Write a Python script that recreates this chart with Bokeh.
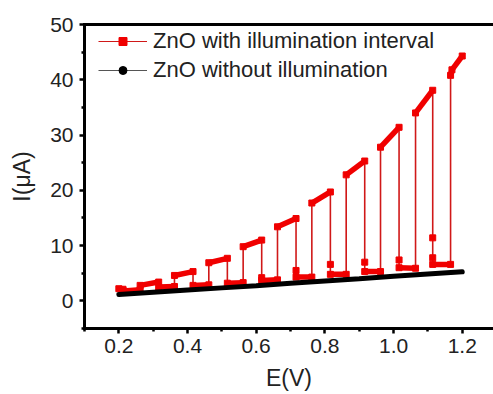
from bokeh.plotting import figure
from bokeh.models import Range1d, FixedTicker, LinearAxis, Legend, LegendItem, NumeralTickFormatter, ColumnDataSource
from bokeh.embed import file_html
from bokeh.resources import INLINE

# ---- data ----
x_ticks = [0.2, 0.4, 0.6, 0.8, 1.0, 1.2]
x_minor = [0.1, 0.3, 0.5, 0.7, 0.9, 1.1, 1.3]
y_ticks = [0, 10, 20, 30, 40, 50]
y_minor = [-5, 5, 15, 25, 35, 45]

series_names = ["ZnO with illumination interval", "ZnO without illumination"]
x_title = "E(V)"
y_title = "I(μA)"

E_ill = [0.200, 0.212, 0.214, 0.262,
         0.262, 0.316, 0.316, 0.362,
         0.362, 0.416, 0.416, 0.462,
         0.462, 0.516, 0.516, 0.562,
         0.562, 0.616, 0.616, 0.616, 0.662,
         0.662, 0.716, 0.716, 0.716, 0.762,
         0.762, 0.816, 0.816, 0.816, 0.862,
         0.862, 0.916, 0.916, 0.916, 0.962,
         0.962, 1.016, 1.016, 1.016, 1.064,
         1.064, 1.114, 1.114, 1.114, 1.114, 1.166,
         1.166, 1.170, 1.200]
I_ill = [2.2, 2.1, 1.8, 2.0,
         2.8, 3.4, 2.5, 2.6,
         4.6, 5.3, 2.8, 2.9,
         6.9, 7.7, 3.2, 3.3,
         9.8, 11.0, 4.2, 3.7, 3.8,
         13.4, 14.9, 5.5, 4.3, 4.3,
         17.7, 19.7, 6.6, 4.8, 4.8,
         22.8, 25.3, 7.0, 5.3, 5.3,
         27.8, 31.4, 7.4, 6.0, 5.9,
         34.0, 38.1, 11.4, 7.8, 6.6, 6.6,
         40.8, 41.8, 44.3]

E_dark = [0.20, 0.30, 0.40, 0.50, 0.60, 0.70, 0.80, 0.90, 1.00, 1.10, 1.20]
I_dark = [1.15, 1.55, 1.95, 2.35, 2.75, 3.20, 3.60, 4.00, 4.45, 4.85, 5.25]

RED = "#f00000"
RED_THIN = "#d01818"
FONT = "Liberation Sans"
TXT = "#222222"

p = figure(width=493, height=394,
           x_range=Range1d(0.1, 1.291), y_range=Range1d(-5, 50),
           output_backend="svg", toolbar_location=None,
           min_border_left=84, min_border_right=0,
           min_border_top=24, min_border_bottom=66,
           x_axis_label=x_title, y_axis_label=y_title)
p.outline_line_color = None
p.grid.visible = False
p.background_fill_color = "white"
p.border_fill_color = "white"

# red series: thin line through all points
src_ill = ColumnDataSource(dict(x=E_ill, y=I_ill))
p.line("x", "y", source=src_ill, line_color=RED_THIN, line_width=1.6)
# thick plateaus where consecutive points differ in E
x0, y0, x1, y1 = [], [], [], []
for i in range(len(E_ill) - 1):
    if E_ill[i + 1] != E_ill[i]:
        x0.append(E_ill[i]); y0.append(I_ill[i])
        x1.append(E_ill[i + 1]); y1.append(I_ill[i + 1])
p.segment(x0, y0, x1, y1, line_color=RED, line_width=5.5, line_cap="butt")
p.scatter("x", "y", source=src_ill, marker="square", size=6,
          fill_color=RED, line_color=RED)

# black dark current
p.line(E_dark, I_dark, line_color="black", line_width=5, line_cap="round")

# legend proxies
nan = float("nan")
l1 = p.line([nan], [nan], line_color=RED_THIN, line_width=1.2)
m1 = p.scatter([nan], [nan], marker="square", size=5, fill_color=RED, line_color=RED)
l2 = p.line([nan], [nan], line_color="#555555", line_width=1.2)
m2 = p.scatter([nan], [nan], marker="circle", size=5, fill_color="black", line_color="black")
legend = Legend(items=[LegendItem(label=series_names[0], renderers=[l1, m1]),
                       LegendItem(label=series_names[1], renderers=[l2, m2])],
                location=(14, 245))
legend.border_line_color = None
legend.background_fill_alpha = 0
legend.label_text_font = FONT
legend.label_text_font_size = "22px"
legend.label_text_color = TXT
legend.glyph_width = 49
legend.glyph_height = 20
legend.label_height = 20
legend.label_standoff = 6
legend.spacing = 3
legend.margin = 0
legend.padding = 0
p.add_layout(legend)

# axes
xa = p.xaxis[0]
xa.ticker = FixedTicker(ticks=x_ticks, minor_ticks=x_minor)
xa.formatter = NumeralTickFormatter(format="0.0")
ya = p.yaxis[0]
ya.ticker = FixedTicker(ticks=y_ticks, minor_ticks=y_minor)
for ax in (xa, ya):
    ax.axis_line_width = 3
    ax.axis_line_cap = "square"
    ax.major_tick_line_width = 2.5
    ax.minor_tick_line_width = 2.5
    ax.major_tick_in = 0
    ax.major_tick_out = 5
    ax.minor_tick_in = 0
    ax.minor_tick_out = 3
    ax.major_label_text_font = FONT
    ax.major_label_text_font_size = "21px"
    ax.major_label_text_color = TXT
    ax.axis_label_text_font = FONT
    ax.axis_label_text_font_size = "23px"
    ax.axis_label_text_font_style = "normal"
    ax.axis_label_text_color = TXT
xa.major_label_standoff = 5
xa.axis_label_standoff = 9
ya.major_label_standoff = 6
ya.axis_label_standoff = 12

top = LinearAxis(ticker=FixedTicker(ticks=[]), axis_line_width=3, axis_line_cap="square",
                 major_label_text_font_size="0px", major_tick_out=0, minor_tick_out=0)
p.add_layout(top, "above")

open("out.html", "w").write(file_html(p, INLINE))
